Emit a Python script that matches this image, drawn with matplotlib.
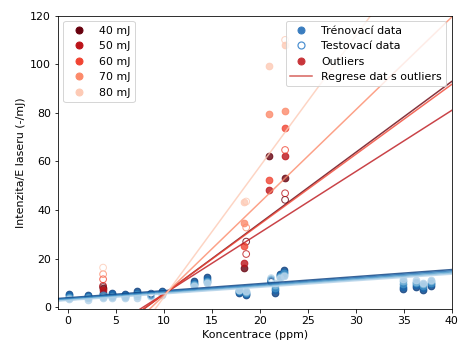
import numpy as np
import matplotlib
matplotlib.use("Agg")
import matplotlib.pyplot as plt
from matplotlib.lines import Line2D

plt.rcParams["font.size"] = 11

# energie laseru
energies = ["40 mJ", "50 mJ", "60 mJ", "70 mJ", "80 mJ"]

# trenovaci data (koncentrace, intenzita pro kazdou energii)
train_conc = [0.2, 2.1, 3.7, 4.6, 6.0, 7.2, 9.8, 13.2, 14.5, 17.8, 18.6,
              21.6, 22.1, 22.5, 34.9, 36.3, 37.0, 37.8]
train_int = [
    [5.5, 5.0, 6.0, 5.9, 5.6, 6.6, 6.8, 10.6, 12.4, 5.9, 5.0, 6.0, 13.8, 15.2, 7.3, 8.4, 7.2, 8.9],
    [5.0, 4.6, 5.4, 5.3, 5.1, 6.0, 6.4, 10.1, 11.7, 6.2, 5.4, 7.0, 13.3, 14.6, 8.4, 9.1, 8.0, 9.5],
    [4.4, 4.1, 4.9, 4.8, 4.7, 5.3, 5.9, 9.6, 11.0, 6.5, 5.8, 8.0, 12.9, 14.0, 9.5, 9.8, 8.7, 10.1],
    [3.8, 3.6, 4.3, 4.2, 4.3, 4.6, 5.5, 9.1, 10.3, 6.9, 6.1, 9.0, 12.4, 13.4, 10.6, 10.5, 9.4, 10.7],
    [3.2, 3.1, 3.8, 3.7, 3.9, 4.0, 5.1, 8.7, 9.8, 7.2, 6.5, 10.0, 12.0, 12.8, 11.8, 11.3, 10.0, 11.4],
]

# testovaci data
test_conc = [8.7, 21.2]
test_int = [
    [5.6, 10.4],
    [5.2, 10.8],
    [4.9, 11.2],
    [4.6, 11.6],
    [4.3, 12.0],
]

# outliers - trenovaci
out_train_conc = [3.7, 18.4, 21.0, 22.6]
out_train_int = [
    [7.8, 16.2, 62.3, 53.1],
    [7.2, 18.4, 48.3, 62.3],
    [None, 25.2, 52.4, 73.9],
    [None, 34.5, 79.4, 80.9],
    [None, 43.2, 99.1, 107.9],
]

# outliers - testovaci
out_test_conc = [3.7, 18.6, 22.65]
out_test_int = [
    [8.3, 27.0, 44.2],
    [8.8, 21.9, 46.9],
    [11.5, None, 64.7],
    [13.6, 32.8, None],
    [16.3, 43.5, 110.0],
]

# regrese bez outliers (smernice, usek)
blue_slope = [0.290, 0.285, 0.280, 0.275, 0.270]
blue_icpt = [3.9, 3.6, 3.3, 3.0, 2.8]

# regrese s outliers
red_slope = [2.92, 2.52, 2.88, 3.82, 5.38]
red_icpt = [-23.9, -19.8, -23.5, -33.4, -49.8]

blues = plt.cm.Blues(np.linspace(0.95, 0.3, 5))
reds = plt.cm.Reds(np.linspace(1.0, 0.2, 5))

fig = plt.figure(figsize=(460 / 72, 347 / 72), dpi=72)
ax = fig.add_axes([0.126, 0.109, 0.856, 0.846])

x_line = np.linspace(-1, 40, 100)

for i in range(5):
    # modre body
    ax.scatter(train_conc, train_int[i], s=45, color=blues[i], alpha=0.8)
    ax.scatter(test_conc, test_int[i], s=45, facecolors="none",
               edgecolors=blues[i], linewidths=1, alpha=0.8)

    # cervene body
    xs = [c for c, v in zip(out_train_conc, out_train_int[i]) if v is not None]
    ys = [v for v in out_train_int[i] if v is not None]
    ax.scatter(xs, ys, s=45, color=reds[i], alpha=0.8)
    xs = [c for c, v in zip(out_test_conc, out_test_int[i]) if v is not None]
    ys = [v for v in out_test_int[i] if v is not None]
    ax.scatter(xs, ys, s=45, facecolors="none", edgecolors=reds[i],
               linewidths=1, alpha=0.8)

for i in range(5):
    ax.plot(x_line, blue_slope[i] * x_line + blue_icpt[i], color=blues[i], lw=1.5, alpha=0.8)
    ax.plot(x_line, red_slope[i] * x_line + red_icpt[i], color=reds[i], lw=1.5, alpha=0.8)

ax.set_xlim(-1, 40)
ax.set_ylim(-0.8, 120)
ax.set_yticks([0, 20, 40, 60, 80, 100, 120])
ax.set_xlabel("Koncentrace (ppm)")
ax.set_ylabel("Intenzita/E laseru (-/mJ)")

# legenda energii
handles_e = [Line2D([], [], marker="o", ls="none", markersize=7,
                    color=reds[i]) for i in range(5)]
leg1 = ax.legend(handles_e, energies, loc="upper left")
ax.add_artist(leg1)

# legenda typu dat
handles_t = [
    Line2D([], [], marker="o", ls="none", markersize=7, color="#3a7dbf"),
    Line2D([], [], marker="o", ls="none", markersize=7, markerfacecolor="none",
           markeredgecolor="#4a8fd0", markeredgewidth=1.2),
    Line2D([], [], marker="o", ls="none", markersize=7, color="#c8353a"),
    Line2D([], [], color="#d6605a", lw=1.5),
]
labels_t = ["Trénovací data", "Testovací data", "Outliers", "Regrese dat s outliers"]
ax.legend(handles_t, labels_t, loc="upper right")

fig.savefig("out.png", dpi=72)
